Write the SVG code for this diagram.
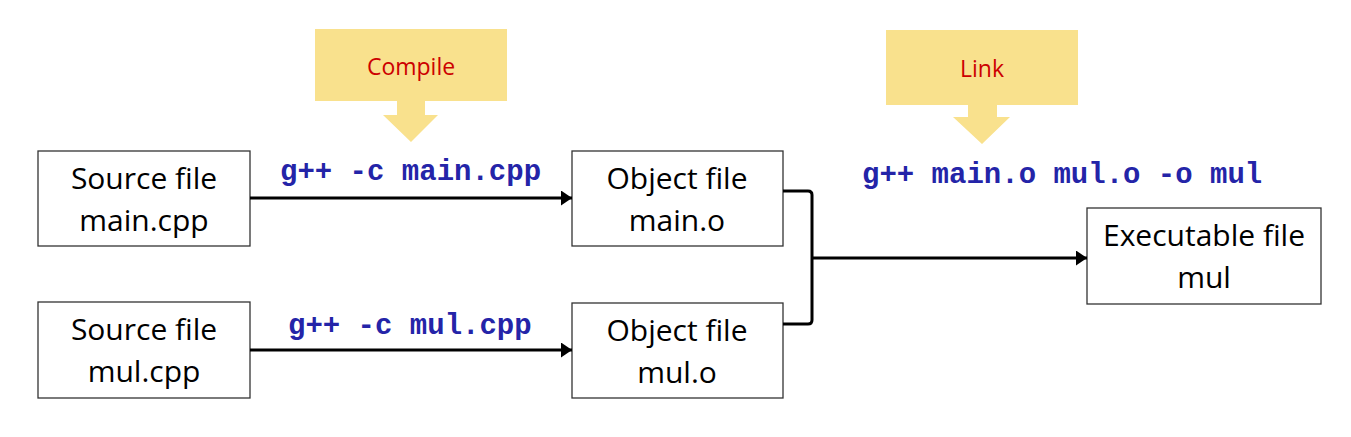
<svg xmlns="http://www.w3.org/2000/svg" width="1351" height="437" viewBox="0 0 1351 437">
<defs>
<style>
.box{fill:#fff;stroke:#333;stroke-width:1.3}
.lbl{font-family:"Open Sans","Noto Sans",sans-serif;font-size:30px;fill:#000;text-anchor:middle}
.cmd{font-family:"Liberation Mono",monospace;font-weight:bold;font-size:29px;fill:#2424a8}
.call{fill:#f9e18d}
.ctxt{font-family:"Open Sans","Noto Sans",sans-serif;font-size:23px;fill:#cc0000;text-anchor:middle}
.line{fill:none;stroke:#000;stroke-width:3}
</style>
<marker id="ah" viewBox="0 0 11 15" refX="11" refY="7.5" markerWidth="11" markerHeight="15" markerUnits="userSpaceOnUse" orient="auto">
<path d="M0,0 L11,7.5 L0,15 z" fill="#000"/>
</marker>
</defs>
<rect width="1351" height="437" fill="#fff"/>
<g id="compile">
<path class="call" d="M315,29 H507 V101 H425 V115 H438 L411,142 L383,115 H397 V101 H315 Z"/>
<text class="ctxt" x="411" y="75">Compile</text>
</g>
<g id="link">
<path class="call" d="M886,30 H1078 V105 H997 V117 H1010 L982,144 L953,117 H968 V105 H886 Z"/>
<text class="ctxt" x="982" y="77">Link</text>
</g>
<g id="src-main">
<rect class="box" x="38" y="151" width="212" height="95"/>
<text class="lbl" x="144" y="189">Source file</text>
<text class="lbl" x="144" y="231">main.cpp</text>
</g>
<g id="src-mul">
<rect class="box" x="38" y="302" width="212" height="96"/>
<text class="lbl" x="144" y="340">Source file</text>
<text class="lbl" x="144" y="382">mul.cpp</text>
</g>
<g id="obj-main">
<rect class="box" x="572" y="151" width="211" height="95"/>
<text class="lbl" x="677" y="189">Object file</text>
<text class="lbl" x="677" y="231">main.o</text>
</g>
<g id="obj-mul">
<rect class="box" x="572" y="303" width="211" height="95"/>
<text class="lbl" x="677" y="341">Object file</text>
<text class="lbl" x="677" y="383">mul.o</text>
</g>
<g id="exe">
<rect class="box" x="1087" y="208" width="234" height="96"/>
<text class="lbl" x="1204" y="246">Executable file</text>
<text class="lbl" x="1204" y="288">mul</text>
</g>
<g id="connectors">
<line class="line" x1="250" y1="198" x2="572" y2="198" marker-end="url(#ah)"/>
<line class="line" x1="250" y1="350" x2="572" y2="350" marker-end="url(#ah)"/>
<path class="line" d="M783,191 H808 Q812,191 812,195 V320 Q812,324 808,324 H783"/>
<line class="line" x1="812" y1="258" x2="1087" y2="258" marker-end="url(#ah)"/>
<text class="cmd" x="280" y="180">g++ -c main.cpp</text>
<text class="cmd" x="288" y="334">g++ -c mul.cpp</text>
<text class="cmd" x="862" y="183">g++ main.o mul.o -o mul</text>
</g>
</svg>
